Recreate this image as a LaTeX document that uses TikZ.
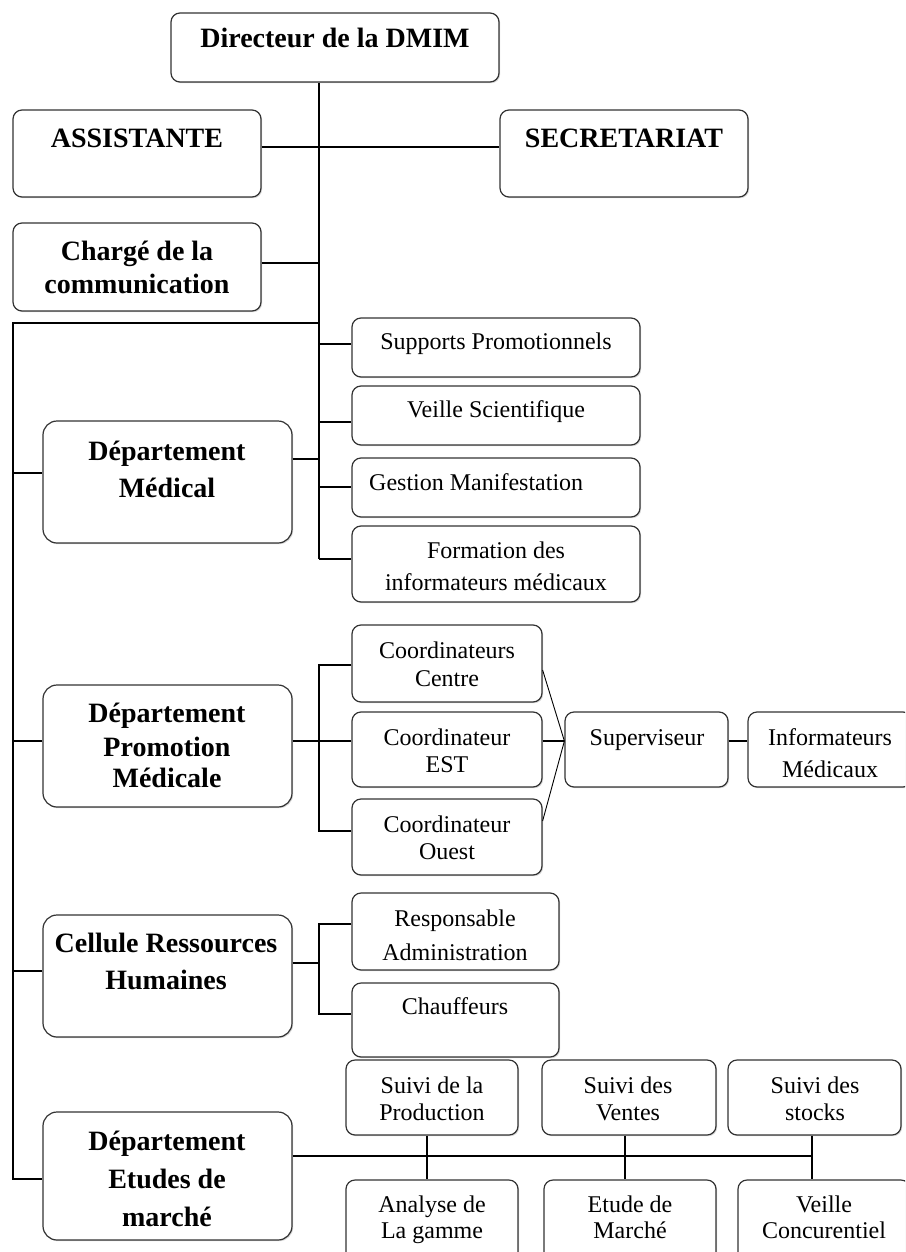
\documentclass[tikz,border=0pt]{standalone}
\usepackage{fontspec}
\setmainfont{Liberation Serif}
\usetikzlibrary{shadows}

% box from its corners (x1,y1)-(x2,y2), in pixel-like units, y growing downwards
\newcommand\mkbox[6]{%
  \pgfmathsetmacro\mkbW{#5-#3}\pgfmathsetmacro\mkbH{#6-#4}%
  \pgfmathsetmacro\mkbX{(#3+#5)/2}\pgfmathsetmacro\mkbY{(#4+#6)/2}%
  \node[#2, minimum width=\mkbW pt, minimum height=\mkbH pt] (#1) at (\mkbX,\mkbY) {};}
% one line of text, placed on its baseline
\newcommand\tx[5]{\node[#2] (#1) at (#3,#4) {#5};}

\begin{document}
\begin{tikzpicture}[x=1pt,y=-1pt,
  box/.style={draw=black!80, line width=1.2pt, rounded corners=9pt, fill=white,
    inner sep=0pt, drop shadow={shadow xshift=1.2pt, shadow yshift=-1.2pt, opacity=0.3}},
  bigbox/.style={box, rounded corners=14pt},
  link/.style={draw=black, line width=1.3pt},
  fine/.style={draw=black, line width=0.9pt},
  bt/.style={font=\fontsize{28}{34}\selectfont\bfseries, anchor=base, inner sep=0pt},
  rt/.style={font=\fontsize{24}{28}\selectfont, anchor=base, inner sep=0pt},
]
\clip (0,0) rectangle (905,1252);
\fill[white] (0,0) rectangle (905,1252);

% ---------- boxes ----------
\mkbox{dir}{box}{171}{13}{499}{82}
\mkbox{asst}{box}{13}{110}{261}{197}
\mkbox{secr}{box}{500}{110}{748}{197}
\mkbox{charge}{box}{13}{223}{261}{311}
\mkbox{sp}{box}{352}{318}{640}{377}
\mkbox{vs}{box}{352}{386}{640}{445}
\mkbox{gm}{box}{352}{458}{640}{517}
\mkbox{fim}{box}{352}{526}{640}{602}
\mkbox{dm}{bigbox}{43}{421}{292}{543}
\mkbox{cc}{box}{352}{625}{542}{702}
\mkbox{ce}{box}{352}{712}{542}{787}
\mkbox{co}{box}{352}{799}{542}{875}
\mkbox{dpm}{bigbox}{43}{685}{292}{807}
\mkbox{sup}{box}{565}{712}{728}{787}
\mkbox{inf}{box}{748}{712}{912}{787}
\mkbox{ra}{box}{352}{893}{559}{970}
\mkbox{ch}{box}{352}{983}{559}{1057}
\mkbox{crh}{bigbox}{43}{915}{292}{1037}
\mkbox{sprod}{box}{346}{1060}{518}{1135}
\mkbox{sven}{box}{542}{1060}{716}{1135}
\mkbox{ssto}{box}{728}{1060}{901}{1135}
\mkbox{dem}{bigbox}{43}{1112}{292}{1240}
\mkbox{ana}{box}{346}{1180}{518}{1264}
\mkbox{etm}{box}{544}{1180}{716}{1264}
\mkbox{vc}{box}{738}{1180}{910}{1264}

% ---------- guide coordinates for the connector runs ----------
\coordinate (tk) at (319,0);    % main vertical
\coordinate (lb) at (13,0);     % left bus
\coordinate (xa) at (427,0);
\coordinate (xb) at (625,0);
\coordinate (xc) at (812,0);
\coordinate (yas) at (0,147);
\coordinate (ych) at (0,263);
\coordinate (ybus) at (0,323);
\coordinate (ysp) at (0,344);
\coordinate (yvs) at (0,422);
\coordinate (ydm) at (0,459);
\coordinate (ydmL) at (0,473);
\coordinate (ygm) at (0,487);
\coordinate (yfim) at (0,559);
\coordinate (ycc) at (0,665);
\coordinate (ycc2) at (0,670);
\coordinate (ypm) at (0,741);
\coordinate (yco) at (0,831);
\coordinate (yco2) at (0,821);
\coordinate (yra) at (0,924);
\coordinate (yrh) at (0,963);
\coordinate (yrhL) at (0,971);
\coordinate (ychf) at (0,1014);
\coordinate (ydb) at (0,1156);
\coordinate (ydem) at (0,1179);

% ---------- connectors ----------
\draw[link] (asst.east |- yas) -- (secr.west |- yas);
\draw[link] (dir.south -| tk) -- (tk |- yfim);
\draw[link] (charge.east |- ych) -- (tk |- ych);
\draw[link] (tk |- ybus) -- (lb |- ybus) -- (lb |- ydem) -- (dem.west |- ydem);
\draw[link] (tk |- ysp) -- (sp.west |- ysp);
\draw[link] (tk |- yvs) -- (vs.west |- yvs);
\draw[link] (dm.east |- ydm) -- (tk |- ydm);
\draw[link] (lb |- ydmL) -- (dm.west |- ydmL);
\draw[link] (tk |- ygm) -- (gm.west |- ygm);
\draw[link] (tk |- yfim) -- (fim.west |- yfim);

\draw[link] (lb |- ypm) -- (dpm.west |- ypm);
\draw[link] (dpm.east |- ypm) -- (ce.west |- ypm);
\draw[link] (cc.west |- ycc) -- (tk |- ycc) -- (tk |- yco) -- (co.west |- yco);
\draw[link] (ce.east |- ypm) -- (sup.west |- ypm);
\draw[fine] (cc.east |- ycc2) -- (sup.west |- ypm);
\draw[fine] (co.east |- yco2) -- (sup.west |- ypm);
\draw[link] (sup.east |- ypm) -- (inf.west |- ypm);

\draw[link] (lb |- yrhL) -- (crh.west |- yrhL);
\draw[link] (crh.east |- yrh) -- (tk |- yrh);
\draw[link] (ra.west |- yra) -- (tk |- yra) -- (tk |- ychf) -- (ch.west |- ychf);

\draw[link] (dem.east |- ydb) -- (xc |- ydb);
\draw[link] (sprod.south -| xa) -- (ana.north -| xa);
\draw[link] (sven.south -| xb) -- (etm.north -| xb);
\draw[link] (ssto.south -| xc) -- (vc.north -| xc);

% ---------- texts ----------
\tx{dir-t}{bt}{335}{48}{Directeur de la DMIM}
\tx{asst-t}{bt}{137}{148}{ASSISTANTE}
\tx{secr-t}{bt}{624}{148}{SECRETARIAT}
\tx{charge-t1}{bt}{137}{260}{Chargé de la}
\tx{charge-t2}{bt}{137}{293}{communication}

\tx{sp-t}{rt}{496}{349}{Supports Promotionnels}
\tx{vs-t}{rt}{496}{417}{Veille Scientifique}
\node[rt, anchor=base west] (gm-t) at (369,490) {Gestion Manifestation};
\tx{fim-t1}{rt}{496}{558}{Formation des}
\tx{fim-t2}{rt}{496}{590}{informateurs médicaux}
\tx{dm-t1}{bt}{167}{460}{Département}
\tx{dm-t2}{bt}{167}{497}{Médical}

\tx{cc-t1}{rt}{447}{658}{Coordinateurs}
\tx{cc-t2}{rt}{447}{686}{Centre}
\tx{ce-t1}{rt}{447}{745}{Coordinateur}
\tx{ce-t2}{rt}{447}{772}{EST}
\tx{co-t1}{rt}{447}{832}{Coordinateur}
\tx{co-t2}{rt}{447}{859}{Ouest}
\tx{dpm-t1}{bt}{167}{722}{Département}
\tx{dpm-t2}{bt}{167}{756}{Promotion}
\tx{dpm-t3}{bt}{167}{787}{Médicale}
\tx{sup-t}{rt}{647}{745}{Superviseur}
\tx{inf-t1}{rt}{830}{745}{Informateurs}
\tx{inf-t2}{rt}{830}{777}{Médicaux}

\tx{ra-t1}{rt}{455}{926}{Responsable}
\tx{ra-t2}{rt}{455}{960}{Administration}
\tx{ch-t}{rt}{455}{1014}{Chauffeurs}
\tx{crh-t1}{bt}{166}{952}{Cellule Ressources}
\tx{crh-t2}{bt}{166}{989}{Humaines}

\tx{sprod-t1}{rt}{432}{1093}{Suivi de la}
\tx{sprod-t2}{rt}{432}{1120}{Production}
\tx{sven-t1}{rt}{628}{1093}{Suivi des}
\tx{sven-t2}{rt}{628}{1120}{Ventes}
\tx{ssto-t1}{rt}{815}{1093}{Suivi des}
\tx{ssto-t2}{rt}{815}{1120}{stocks}
\tx{dem-t1}{bt}{167}{1150}{Département}
\tx{dem-t2}{bt}{167}{1188}{Etudes de}
\tx{dem-t3}{bt}{167}{1226}{marché}
\tx{ana-t1}{rt}{432}{1212}{Analyse de}
\tx{ana-t2}{rt}{432}{1238}{La gamme}
\tx{etm-t1}{rt}{630}{1212}{Etude de}
\tx{etm-t2}{rt}{630}{1238}{Marché}
\tx{vc-t1}{rt}{824}{1212}{Veille}
\tx{vc-t2}{rt}{824}{1238}{Concurentiel}
\end{tikzpicture}
\end{document}
